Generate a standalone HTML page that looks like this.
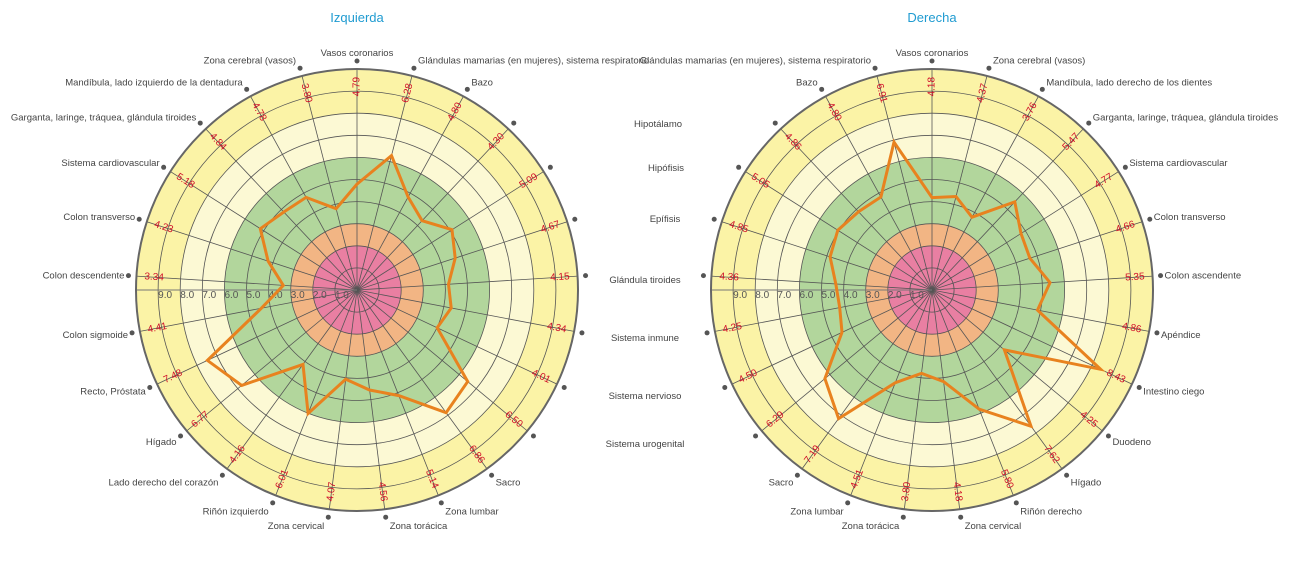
<!DOCTYPE html>
<html><head><meta charset="utf-8">
<style>
html,body{margin:0;padding:0;background:#fff;}
svg{display:block;font-family:"Liberation Sans",sans-serif;}
</style></head>
<body>
<svg id="chart" width="1293" height="580" viewBox="0 0 1293 580"></svg>
<script>
const leftCategories = ["Vasos coronarios","Glándulas mamarias (en mujeres), sistema respiratorio","Bazo","Hipotálamo","Hipófisis","Epífisis","Glándula tiroides","Sistema inmune","Sistema nervioso","Sistema urogenital","Sacro","Zona lumbar","Zona torácica","Zona cervical","Riñón izquierdo","Lado derecho del corazón","Hígado","Recto, Próstata","Colon sigmoide","Colon descendente","Colon transverso","Sistema cardiovascular","Garganta, laringe, tráquea, glándula tiroides","Mandíbula, lado izquierdo de la dentadura","Zona cerebral (vasos)"];
const leftValues = [4.79,6.28,4.80,4.30,5.09,4.67,4.15,4.34,4.01,6.50,6.86,5.14,4.56,4.07,6.01,4.16,6.77,7.48,4.41,3.34,4.23,5.18,4.84,4.78,3.80];
const rightCategories = ["Vasos coronarios","Zona cerebral (vasos)","Mandíbula, lado derecho de los dientes","Garganta, laringe, tráquea, glándula tiroides","Sistema cardiovascular","Colon transverso","Colon ascendente","Apéndice","Intestino ciego","Duodeno","Hígado","Riñón derecho","Zona cervical","Zona torácica","Zona lumbar","Sacro","Sistema urogenital","Sistema nervioso","Sistema inmune","Glándula tiroides","Epífisis","Hipófisis","Hipotálamo","Bazo","Glándulas mamarias (en mujeres), sistema respiratorio"];
const rightValues = [4.18,4.37,3.76,5.47,4.77,4.66,5.35,4.86,8.43,4.25,7.62,5.80,4.18,3.80,4.51,7.19,6.29,4.50,4.25,4.36,4.85,5.05,4.86,4.80,6.91];
const radialTicks = ["1.0","2.0","3.0","4.0","5.0","6.0","7.0","8.0","9.0"];
const bandLimits = [10,8,6,3,2];
const bandColors = ["#fbf3a6","#fcf9d4","#b2d69c","#f2b584","#e97fa2"];
const sharedLabels = ["Hipotálamo","Hipófisis","Epífisis","Glándula tiroides","Sistema inmune","Sistema nervioso","Sistema urogenital"];

const NS="http://www.w3.org/2000/svg";
const svg=document.getElementById('chart');
const R=221, RMAX=10;
function mk(tag,attrs,parent){const e=document.createElementNS(NS,tag);for(const k in attrs)e.setAttribute(k,attrs[k]);(parent||svg).appendChild(e);return e;}
function rr(v){return v/RMAX*R;}

function drawPolar(cx,cy,cats,vals,title,hidden,prefix){
  const g=mk('g',{});
  
  
  const n=cats.length;
  const ang=i=>i*2*Math.PI/n;
  const pt=(i,r)=>[cx+r*Math.sin(ang(i)),cy-r*Math.cos(ang(i))];
  bandLimits.forEach((b,k)=>{
    const c=mk('circle',{cx,cy,r:rr(b),fill:bandColors[k]},g);
    
    
  });
  for(let v=1;v<10;v++){
    const c=mk('circle',{cx,cy,r:rr(v),fill:'none',stroke:'#555','stroke-width':0.8},g);
    
    
  }
  for(let i=0;i<n;i++){
    const [x,y]=pt(i,R);
    const l=mk('line',{x1:cx,y1:cy,x2:x,y2:y,stroke:'#555','stroke-width':0.8},g);
    
    
  }
  const ax=mk('line',{x1:cx,y1:cy,x2:cx-R,y2:cy,stroke:'#777','stroke-width':1},g);
  
  
  radialTicks.forEach(t=>{
    const v=parseFloat(t);
    const tx=mk('text',{x:cx-rr(v)+7,y:cy+8,'font-size':10,fill:'#555','text-anchor':'middle'},g);
    tx.textContent=t;
    
    
  });
  const outer=mk('circle',{cx,cy,r:R,fill:'none',stroke:'#666','stroke-width':2},g);
  
  
  // data line
  const pts=vals.map((v,i)=>pt(i,rr(v)).map(z=>z.toFixed(1)).join(',')).join(' ');
  const pl=mk('polygon',{points:pts,fill:'none',stroke:'#e8821f','stroke-width':3,'stroke-linejoin':'miter'},g);
  
  
  // value labels
  vals.forEach((v,i)=>{
    const [x,y]=pt(i,rr(9.2));
    const deg=i*360/n;
    let rot=deg-90; if(deg>180) rot=deg-270;
    const t=mk('text',{x,y,'font-size':10,fill:'#d0102a','text-anchor':'middle','dominant-baseline':'middle',transform:`rotate(${rot.toFixed(1)} ${x.toFixed(1)} ${y.toFixed(1)})`},g);
    t.textContent=v.toFixed(2);
    
    
  });
  // category dots and labels
  cats.forEach((c,i)=>{
    const [x,y]=pt(i,229);
    const d=mk('circle',{cx:x,cy:y,r:2.5,fill:'#555'},g);
    
    
    if(hidden.includes(i)) return;
    const s=Math.sin(ang(i)), co=Math.cos(ang(i));
    const anchor=s>0.05?'start':(s<-0.05?'end':'middle');
    const dx=s>0.05?4:(s<-0.05?-4:0);
    const t=mk('text',{x:x+dx,y:y+3.5-8.5*co,'font-size':9.5,fill:'#444','text-anchor':anchor},g);
    t.textContent=c;
    
    
  });
  const tt=mk('text',{x:cx,y:22,'font-size':13,fill:'#1f9bd1','text-anchor':'middle'},g);
  tt.textContent=title;
  
  
}
drawPolar(357,290,leftCategories,leftValues,"Izquierda",[3,4,5,6,7,8,9],'left');
drawPolar(932,290,rightCategories,rightValues,"Derecha",[16,17,18,19,20,21,22],'right');
const sharedX=[658,666,665,645,645,645,645];
const sharedY=[127,171,222,283,341,399,447];
sharedLabels.forEach((s,k)=>{
  const t=mk('text',{x:sharedX[k],y:sharedY[k],'font-size':9.5,fill:'#444','text-anchor':'middle'});
  t.textContent=s;
  
  
});
</script>
</body></html>
